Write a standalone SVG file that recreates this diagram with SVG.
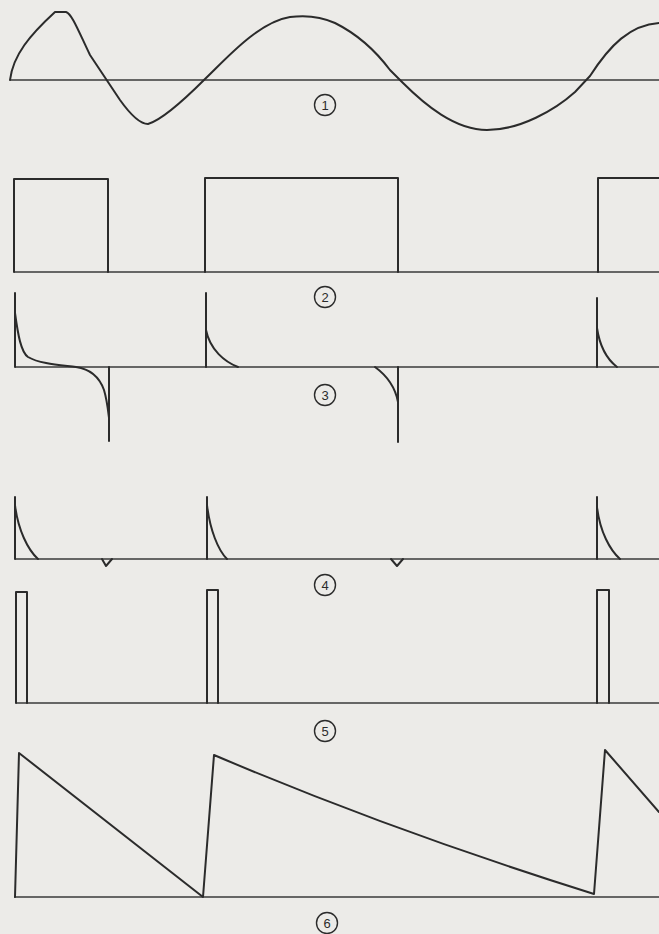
<svg xmlns="http://www.w3.org/2000/svg" width="659" height="934" viewBox="0 0 659 934">
<style>
.bg{fill:#ecebe8}
.ax{stroke:#3a3a3a;stroke-width:1.6;fill:none}
.w{stroke:#2b2b2b;stroke-width:2;fill:none;stroke-linejoin:round;stroke-linecap:round}
.lc{fill:none;stroke:#2b2b2b;stroke-width:1.4}
.lt{font-family:"Liberation Sans",Arial,sans-serif;font-size:13px;fill:#2b2b2b;text-anchor:middle}
</style>
<rect class="bg" x="0" y="0" width="659" height="934"/>

<g id="wave1">
<line class="ax" x1="10" y1="80" x2="659" y2="80"/>
<path class="w" d="M10,80 C13,55 30,35 55,12 L66,12 C72,14 78,30 90,55 L120,100 C130,114 140,124 148,124 C162,120 188,96 205,79 C225,60 258,22 290,17 C305,15 322,17 335,23 C355,33 375,50 390,70 L402,82 C425,105 455,130 487,130 C520,130 555,110 575,92 L590,76 C610,45 630,25 659,23"/>
</g>
<g id="label1"><circle class="lc" cx="325" cy="105" r="10.5"/><text class="lt" x="325" y="109.5">1</text></g>

<g id="wave2">
<line class="ax" x1="14" y1="272" x2="659" y2="272"/>
<path class="w" d="M14,272 L14,179 L108,179 L108,272"/>
<path class="w" d="M205,272 L205,178 L398,178 L398,272"/>
<path class="w" d="M598,272 L598,178 L659,178"/>
</g>
<g id="label2"><circle class="lc" cx="325" cy="297" r="10.5"/><text class="lt" x="325" y="301.5">2</text></g>

<g id="wave3">
<line class="ax" x1="15" y1="367" x2="659" y2="367"/>
<path class="w" d="M15,367 L15,293"/>
<path class="w" d="M15,313 C18,335 21,352 28,357 C40,364 60,365 76,367 C90,369 99,376 104,390 C107,400 108,410 109,418"/>
<path class="w" d="M109,367 L109,441"/>
<path class="w" d="M206,367 L206,293"/>
<path class="w" d="M206,330 C210,350 225,362 238,367"/>
<path class="w" d="M375,367 C386,375 395,386 398,402"/>
<path class="w" d="M398,367 L398,442"/>
<path class="w" d="M597,367 L597,298"/>
<path class="w" d="M597,328 C600,348 608,360 617,367"/>
</g>
<g id="label3"><circle class="lc" cx="325" cy="395" r="10.5"/><text class="lt" x="325" y="399.5">3</text></g>

<g id="wave4">
<line class="ax" x1="15" y1="559" x2="659" y2="559"/>
<path class="w" d="M15,559 L15,497"/>
<path class="w" d="M15,505 C18,530 28,550 38,559"/>
<path class="w" d="M102,559 L106,566 L112,559"/>
<path class="w" d="M207,559 L207,497"/>
<path class="w" d="M207,505 C210,530 218,550 227,559"/>
<path class="w" d="M391,559 L397,566 L403,559"/>
<path class="w" d="M597,559 L597,497"/>
<path class="w" d="M597,507 C600,532 610,550 620,559"/>
</g>
<g id="label4"><circle class="lc" cx="325" cy="585" r="10.5"/><text class="lt" x="325" y="589.5">4</text></g>

<g id="wave5">
<line class="ax" x1="16" y1="703" x2="659" y2="703"/>
<path class="w" d="M16,703 L16,592 L27,592 L27,703"/>
<path class="w" d="M207,703 L207,590 L218,590 L218,703"/>
<path class="w" d="M597,703 L597,590 L609,590 L609,703"/>
</g>
<g id="label5"><circle class="lc" cx="325" cy="731" r="10.5"/><text class="lt" x="325" y="735.5">5</text></g>

<g id="wave6">
<line class="ax" x1="14" y1="897" x2="659" y2="897"/>
<path class="w" d="M15,897 L19,753 L203,897 L214,755 Q390,830 594,894 L605,750 L659,812"/>
</g>
<g id="label6"><circle class="lc" cx="327" cy="923" r="10.5"/><text class="lt" x="327" y="927.5">6</text></g>
</svg>
